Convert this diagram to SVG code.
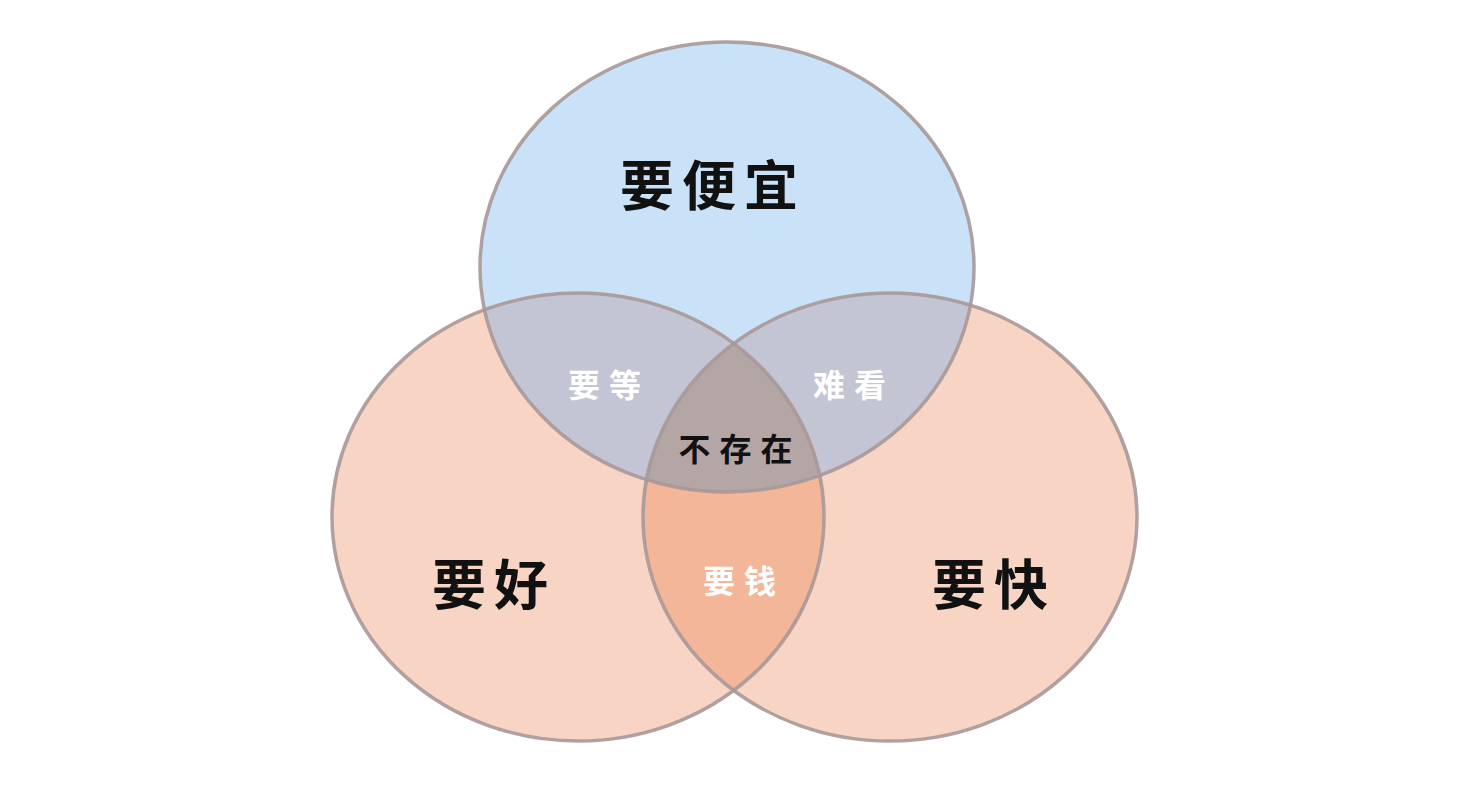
<svg xmlns="http://www.w3.org/2000/svg" width="1480" height="798" viewBox="0 0 1480 798">
<style>
.lbl{font-family:"Noto Sans CJK SC","Noto Sans",sans-serif;font-weight:bold;text-anchor:middle}
.big{font-size:54px;fill:#111;letter-spacing:8px}
.mid{font-size:32px;letter-spacing:9px}
.ring{fill:none;stroke:#a89898;stroke-width:3.5;stroke-opacity:0.9}
</style>
<defs>
<clipPath id="cTop"><ellipse cx="727" cy="267" rx="247" ry="225"/></clipPath>
<clipPath id="cLeft"><ellipse cx="578" cy="517" rx="246" ry="224"/></clipPath>
<clipPath id="cRight"><ellipse cx="890" cy="517" rx="247" ry="224"/></clipPath>
</defs>
<rect width="1480" height="798" fill="#fff"/>
<g id="fills">
<ellipse cx="578" cy="517" rx="246" ry="224" fill="#f8d4c4"/>
<ellipse cx="890" cy="517" rx="247" ry="224" fill="#f8d4c4"/>
<g clip-path="url(#cLeft)"><ellipse cx="890" cy="517" rx="247" ry="224" fill="#f4b698"/></g>
<ellipse cx="727" cy="267" rx="247" ry="225" fill="#c9e2f8"/>
<g clip-path="url(#cTop)">
<ellipse cx="578" cy="517" rx="246" ry="224" fill="#c4c5d4"/>
<ellipse cx="890" cy="517" rx="247" ry="224" fill="#c4c5d4"/>
<g clip-path="url(#cLeft)"><ellipse cx="890" cy="517" rx="247" ry="224" fill="#b5a6a6"/></g>
</g>
</g>
<g id="node-cheap"><ellipse class="ring" cx="727" cy="267" rx="247" ry="225"/></g>
<g id="node-good"><ellipse class="ring" cx="578" cy="517" rx="246" ry="224"/></g>
<g id="node-fast"><ellipse class="ring" cx="890" cy="517" rx="247" ry="224"/></g>
<g id="labels">
<text class="lbl big" x="713" y="206">要便宜</text>
<text class="lbl big" x="494" y="605">要好</text>
<text class="lbl big" x="994" y="605">要快</text>
<text class="lbl mid" x="609" y="397" fill="#fff">要等</text>
<text class="lbl mid" x="854" y="397" fill="#fff">难看</text>
<text class="lbl mid" x="740" y="461" fill="#111">不存在</text>
<text class="lbl mid" x="744" y="593" fill="#fff">要钱</text>
</g>
</svg>
